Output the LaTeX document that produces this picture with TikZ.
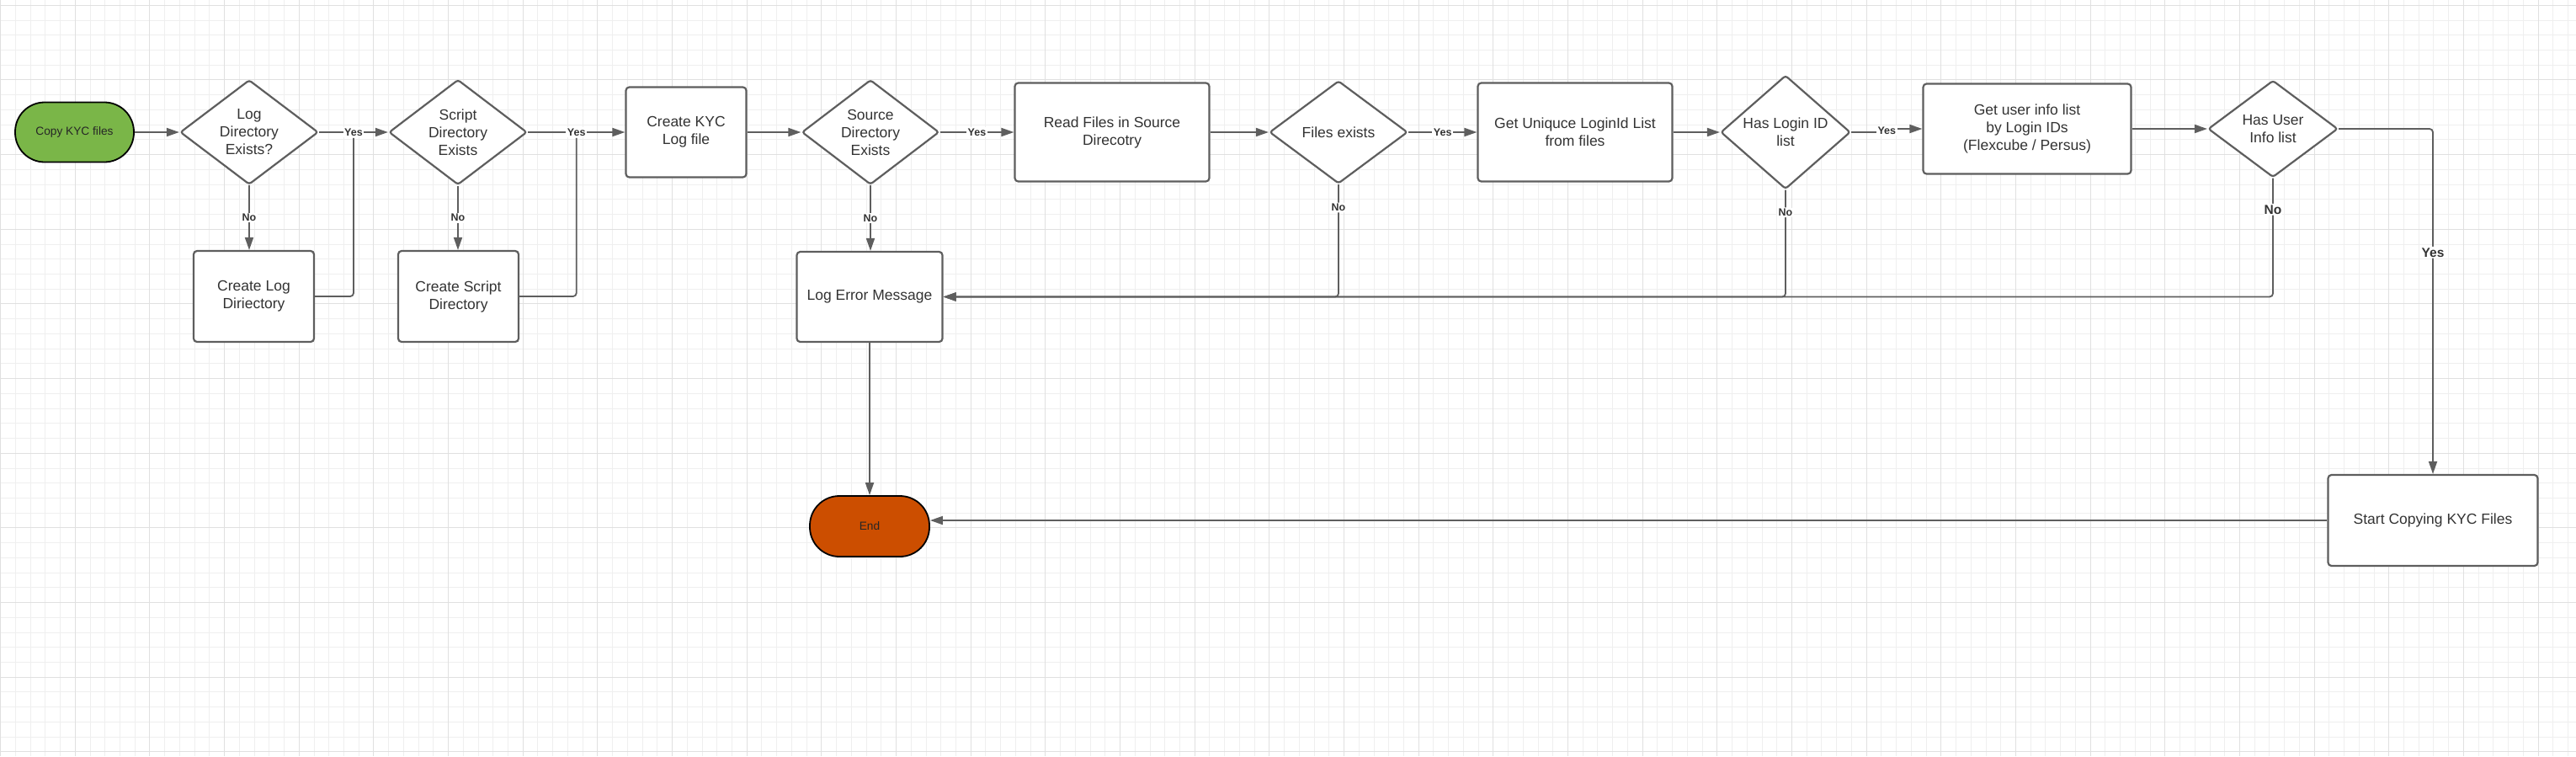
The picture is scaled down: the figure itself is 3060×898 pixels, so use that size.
\documentclass[tikz,border=0pt]{standalone}
\usepackage{fontspec}
\setmainfont{Liberation Sans}
\usetikzlibrary{shapes.geometric,arrows.meta,calc}
\definecolor{ln}{HTML}{5E5E5E}
\definecolor{txt}{HTML}{333333}
\definecolor{gmin}{HTML}{EFEFEF}
\definecolor{gmaj}{HTML}{E0E0E0}
\definecolor{startg}{HTML}{7AB648}
\definecolor{endo}{HTML}{CC4E00}
\begin{document}
\begin{tikzpicture}[x=1pt,y=-1pt,
 proc/.style={draw=ln, line width=2.2pt, rounded corners=4pt, fill=white, text=txt, align=center, inner sep=0pt, font=\fontsize{17.5}{21}\selectfont},
 dec/.style={diamond, draw=ln, line width=2.2pt, rounded corners=3pt, fill=white, text=txt, align=center, inner sep=0pt, font=\fontsize{17.5}{21}\selectfont},
 term/.style={draw=black, line width=1.8pt, rounded corners=35pt, align=center, text=black!85, font=\fontsize{13.7}{16}\selectfont, minimum width=141pt, minimum height=71pt},
 arr/.style={draw=ln, line width=1.8pt, -{Triangle[length=15pt,width=10pt]}},
 con/.style={draw=ln, line width=1.8pt},
 lbl/.style={fill=white, text=txt, inner sep=1.5pt, font=\bfseries\fontsize{12.5}{14}\selectfont},
 lblb/.style={lbl, font=\bfseries\fontsize{15.5}{17}\selectfont},
]
\fill[white] (0,0) rectangle (3060,898);
\useasboundingbox (0,0) rectangle (3060,898);
% grid
\foreach \i in {0,...,172} {\draw[gmin, line width=1pt] ({0.64+\i*17.732},0) -- ++(0,898);}
\foreach \j in {0,...,50} {\draw[gmin, line width=1pt] (0,{6.3+\j*17.732}) -- ++(3060,0);}
\foreach \i in {0,...,34} {\draw[gmaj, line width=1pt] ({0.64+\i*88.66},0) -- ++(0,898);}
\foreach \j in {0,...,10} {\draw[gmaj, line width=1pt] (0,{6.3+\j*88.66}) -- ++(3060,0);}

% nodes
\node[term, fill=startg] (start) at (88.5,157) {Copy KYC files};
\node[dec, minimum width=164pt, minimum height=122pt] (d1) at (296,157) {Log\\Directory\\Exists?};
\node[proc, minimum width=143pt, minimum height=108pt] (cld) at (301.5,352) {Create Log\\Diriectory};
\node[dec, minimum width=164pt, minimum height=122pt] (d2) at (544,157) {Script\\Directory\\Exists};
\node[proc, minimum width=143pt, minimum height=108pt] (csd) at (544.5,352) {Create Script\\Directory};
\node[proc, minimum width=143pt, minimum height=107pt] (ckl) at (815,157) {Create KYC\\Log file};
\node[dec, minimum width=163pt, minimum height=122pt] (d3) at (1034,157) {Source\\Directory\\Exists};
\node[proc, minimum width=231pt, minimum height=117pt] (rf) at (1321,157) {Read Files in Source\\Direcotry};
\node[proc, minimum width=173pt, minimum height=107pt] (lem) at (1033,352.5) {Log Error Message};
\node[dec, minimum width=164pt, minimum height=122pt] (d4) at (1590,157) {Files exists};
\node[proc, minimum width=231pt, minimum height=117pt] (gu) at (1871,157) {Get Uniquce LoginId List\\from files};
\node[dec, minimum width=154pt, minimum height=115pt] (d5) at (2121,157) {Has Login ID\\list};
\node[proc, minimum width=247pt, minimum height=107pt] (ui) at (2408,153) {Get user info list\\by Login IDs\\(Flexcube / Persus)};
\node[dec, minimum width=154pt, minimum height=115pt] (d6) at (2700,153) {Has User\\Info list};
\node[proc, minimum width=249pt, minimum height=108pt] (sc) at (2890,618) {Start Copying KYC Files};
\node[term, fill=endo, minimum width=142pt, minimum height=72pt] (end) at (1033,625) {End};

% connectors
\draw[arr] (start.east) -- (d1.west);
\draw[arr] (d1.east) -- node[lbl] (y1) {Yes} (d2.west);
\draw[arr] (d1.south) -- node[lbl] {No} (d1.south |- cld.north);
\draw[con, rounded corners=4pt] (cld.east) -| (y1.south);
\draw[arr] (d2.east) -- node[lbl] (y2) {Yes} (ckl.west);
\draw[arr] (d2.south) -- node[lbl] {No} (d2.south |- csd.north);
\draw[con, rounded corners=4pt] (csd.east) -| (y2.south);
\draw[arr] (ckl.east) -- (d3.west);
\draw[arr] (d3.east) -- node[lbl] {Yes} (rf.west);
\draw[arr] (d3.south) -- node[lbl] {No} (d3.south |- lem.north);
\draw[arr] (rf.east) -- (d4.west);
\draw[arr] (d4.east) -- node[lbl] {Yes} (gu.west);
\draw[arr] (gu.east) -- (d5.west);
\coordinate (j5) at ($(d5.east)!0.5!(ui.west)$);
\draw[arr] (d5.east) -- (d5.east -| j5) -- (ui.west -| j5) -- (ui.west);
\node[lbl] at (j5) {Yes};
\draw[arr] (ui.east) -- (d6.west);
\draw[arr, rounded corners=4pt] (d4.south) |- node[lbl, pos=0.103] {No} (lem.east);
\draw[arr, rounded corners=4pt] (d5.south) |- node[lbl, pos=0.105] {No} (lem.east);
\draw[arr, rounded corners=4pt] (d6.south) |- node[lblb, pos=0.132] {No} (lem.east);
\draw[arr, rounded corners=4pt] (d6.east) -| node[lblb, pos=0.679] {Yes} (sc.north);
\draw[arr] (lem.south) -- (lem.south |- end.north);
\draw[arr] (sc.west) -- (end.east |- sc.west);
\end{tikzpicture}
\end{document}
